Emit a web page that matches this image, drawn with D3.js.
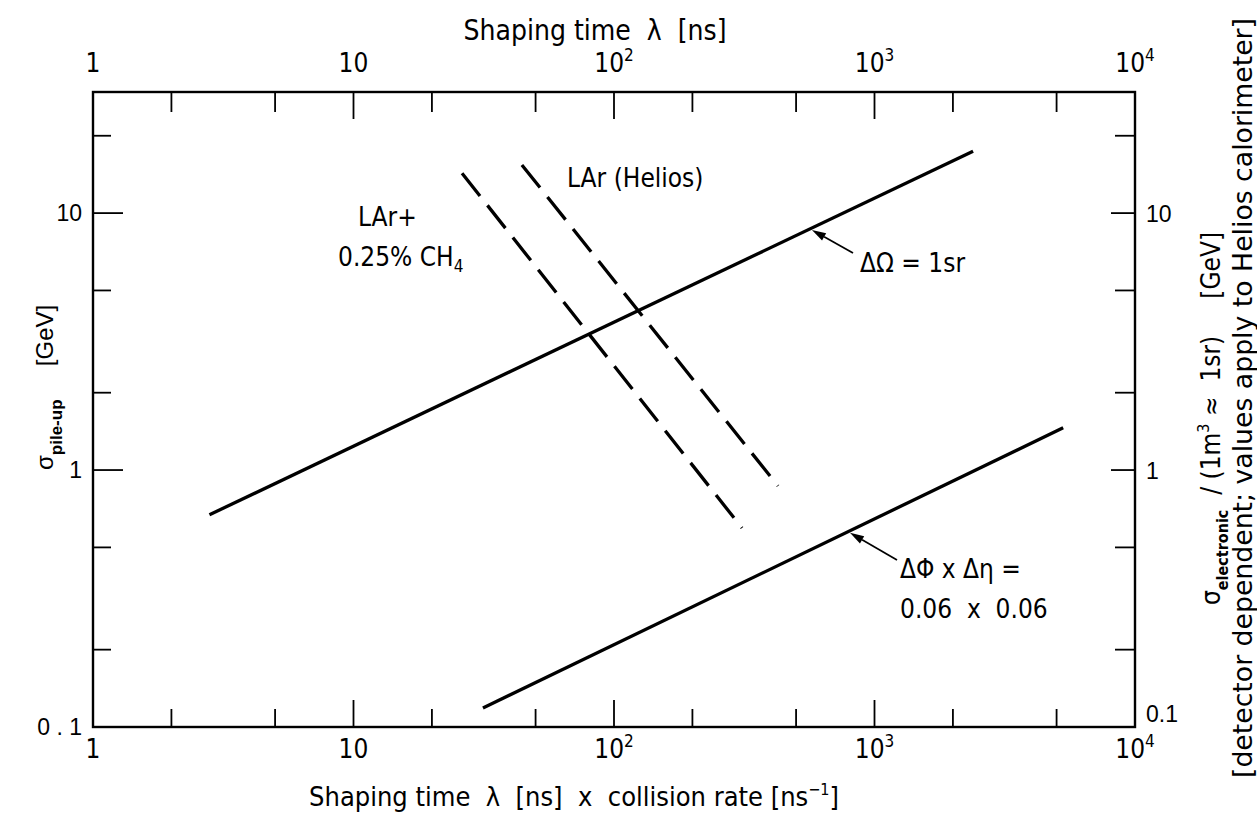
<!DOCTYPE html>
<html><head><meta charset="utf-8">
<script src="https://cdn.jsdelivr.net/npm/d3@7"></script>
<style>
html,body{margin:0;padding:0;background:#fff;}
svg{display:block;}
</style></head><body>
<svg id="chart" width="1257" height="813"></svg>
<script>
// Decade ticks shared by the top (λ) and bottom (λ × rate) axes
const decadeValues = [1, 10, 100, 1000, 10000];
const decadeBase = ["1", "10", "10", "10", "10"];
const decadeExp = ["", "", "2", "3", "4"];
const minorXTicks = [2, 5, 20, 50, 200, 500, 2000, 5000];

// σ axes (left: pile-up, right: electronic noise)
const majorYTicks = [1, 10];
const minorYTicks = [0.2, 0.5, 2, 5, 20];
const yLabelValues = [0.1, 1, 10];
const leftYLabels = ["0 . 1", "1", "10"];
const rightYLabels = ["0.1", "1", "10"];

// Pile-up noise vs λ × collision rate
const omegaX = [2.8, 2390];
const omegaY = [0.67, 17.4];
const etaPhiX = [31.4, 5300];
const etaPhiY = [0.1186, 1.46];

// Electronic noise vs shaping time λ
const larCh4X = [26.1, 310];
const larCh4Y = [14.3, 0.595];
const larHeliosX = [44.3, 426];
const larHeliosY = [15.4, 0.867];

const plotFont = "'DejaVu Sans Condensed','Liberation Sans Narrow','DejaVu Sans',sans-serif";
const sansFont = "'Liberation Sans','Arial',sans-serif";

const svg = d3.select("#chart");
const L = 93, R = 1135, T = 92, B = 727;

const x = d3.scaleLog().domain([1, 1e4]).range([L, R]);   // λ × rate
const xTop = d3.scaleLog().domain([1, 1e4]).range([L, R]); // λ
const y = d3.scaleLog().domain([0.1, 29.6]).range([B, T]);

// frame
svg.append("rect").attr("x", L).attr("y", T).attr("width", R - L).attr("height", B - T)
  .attr("fill", "none").attr("stroke", "#000").attr("stroke-width", 2.4);

const tickG = svg.append("g").attr("stroke", "#000").attr("stroke-width", 1.8);
const xTickVals = decadeValues.slice(1, -1).concat(minorXTicks);
// bottom ticks (inward)
tickG.selectAll(".tb").data(xTickVals).join("line")
  .attr("x1", d => x(d)).attr("x2", d => x(d)).attr("y1", B)
  .attr("y2", d => B - (decadeValues.includes(d) ? 27 : 18));
// top ticks (inward)
tickG.selectAll(".tt").data(xTickVals).join("line")
  .attr("x1", d => xTop(d)).attr("x2", d => xTop(d)).attr("y1", T)
  .attr("y2", d => T + (decadeValues.includes(d) ? 27 : 20));
// left ticks
tickG.selectAll(".tl").data(majorYTicks.concat(minorYTicks)).join("line")
  .attr("y1", d => y(d)).attr("y2", d => y(d)).attr("x1", L)
  .attr("x2", d => L + (majorYTicks.includes(d) ? 30 : 18));
// right ticks
tickG.selectAll(".tr").data(majorYTicks.concat(minorYTicks)).join("line")
  .attr("y1", d => y(d)).attr("y2", d => y(d)).attr("x1", R)
  .attr("x2", d => R - (majorYTicks.includes(d) ? 24 : 20));

// decade labels on top and bottom axes
function decadeLabel(g, xs, yBase) {
  const t = g.selectAll(null).data(decadeValues).join("text")
    .attr("x", d => xs(d)).attr("y", yBase)
    .attr("text-anchor", "middle")
    .attr("font-family", plotFont).attr("font-size", 26);
  t.append("tspan").text((d, i) => decadeBase[i]);
  t.append("tspan").attr("font-size", 17).attr("dy", -11).text((d, i) => decadeExp[i]);
}
decadeLabel(svg.append("g"), xTop, 72);
decadeLabel(svg.append("g"), x, 758);

// σ labels
svg.append("g").selectAll("text").data(yLabelValues).join("text")
  .attr("x", 82).attr("y", d => y(d) + 8).attr("text-anchor", "end")
  .attr("font-family", sansFont).attr("font-size", 23)
  .text((d, i) => leftYLabels[i]);
svg.append("g").selectAll("text").data(yLabelValues).join("text")
  .attr("x", 1146).attr("y", d => y(d) + (d === 0.1 ? -5 : 9))
  .attr("font-family", sansFont).attr("font-size", 23)
  .text((d, i) => rightYLabels[i]);

// axis titles
svg.append("text").attr("x", 595).attr("y", 40).attr("text-anchor", "middle")
  .attr("font-family", plotFont).attr("font-size", 28).attr("xml:space", "preserve")
  .text("Shaping time  λ  [ns]");

const botTitle = svg.append("text").attr("x", 574).attr("y", 806).attr("text-anchor", "middle")
  .attr("font-family", plotFont).attr("font-size", 27).attr("xml:space", "preserve");
botTitle.append("tspan").text("Shaping time  λ  [ns]  x  collision rate [ns");
botTitle.append("tspan").attr("font-size", 16).attr("dy", -11).text("−1");
botTitle.append("tspan").attr("dy", 11).text("]");

const leftTitle = svg.append("text").attr("transform", "translate(53,470) rotate(-90)")
  .attr("font-family", sansFont).attr("font-size", 24).attr("xml:space", "preserve");
leftTitle.append("tspan").text("σ");
leftTitle.append("tspan").attr("font-size", 17).attr("font-weight", "bold").attr("dy", 9).text("pile-up");
leftTitle.append("tspan").attr("dy", -9).text("     [GeV]");

const rightTitle = svg.append("text").attr("transform", "translate(1220,605) rotate(-90)")
  .attr("font-family", plotFont).attr("font-size", 26).attr("xml:space", "preserve");
rightTitle.append("tspan").text("σ");
rightTitle.append("tspan").attr("font-size", 16).attr("font-weight", "bold").attr("dy", 8).text("electronic");
rightTitle.append("tspan").attr("dy", -8).text("  / (1m");
rightTitle.append("tspan").attr("font-size", 16).attr("dy", -11).text("3");
rightTitle.append("tspan").attr("dy", 11).text(" ≈  1sr)     [GeV]");

svg.append("text").attr("transform", "translate(1252,778) rotate(-90)")
  .attr("font-family", plotFont).attr("font-size", 26)
  .attr("textLength", 760).attr("lengthAdjust", "spacingAndGlyphs")
  .text("[detector dependent; values apply to Helios calorimeter]");

// curves
const line = d3.line().x(d => x(d[0])).y(d => y(d[1]));
const lineTop = d3.line().x(d => xTop(d[0])).y(d => y(d[1]));
const pts = (xs, ys) => xs.map((v, i) => [v, ys[i]]);

const curves = svg.append("g").attr("fill", "none").attr("stroke", "#000").attr("stroke-width", 3.3);
curves.append("path").attr("d", line(pts(omegaX, omegaY)));
curves.append("path").attr("d", line(pts(etaPhiX, etaPhiY)));
curves.append("path").attr("d", lineTop(pts(larCh4X, larCh4Y))).attr("stroke-dasharray", "29,12");
curves.append("path").attr("d", lineTop(pts(larHeliosX, larHeliosY))).attr("stroke-dasharray", "29,12");

// point on a straight log-log segment
function onLine(xs, ys, xv) {
  const s = Math.log(ys[1] / ys[0]) / Math.log(xs[1] / xs[0]);
  return ys[0] * Math.pow(xv / xs[0], s);
}

// arrows from labels to the pile-up lines
function arrow(x0, y0, x1, y1) {
  const g = svg.append("g");
  const a = Math.atan2(y1 - y0, x1 - x0), len = 14, w = 4.2;
  const bx = x1 - len * Math.cos(a), by = y1 - len * Math.sin(a);
  g.append("line").attr("x1", x0).attr("y1", y0).attr("x2", bx).attr("y2", by)
    .attr("stroke", "#000").attr("stroke-width", 1.7);
  g.append("path").attr("d", `M${x1},${y1}L${bx - w * Math.sin(a)},${by + w * Math.cos(a)}L${bx + w * Math.sin(a)},${by - w * Math.cos(a)}Z`)
    .attr("fill", "#000");
}
arrow(853, 253, x(575), y(onLine(omegaX, omegaY, 575)) + 2);
arrow(897, 560, x(805), y(onLine(etaPhiX, etaPhiY, 805)) + 2);

// annotations
const ann = svg.append("g").attr("font-family", plotFont).attr("font-size", 26);
ann.append("text").attr("x", 567).attr("y", 187).text("LAr (Helios)");
ann.append("text").attr("x", 358).attr("y", 226).text("LAr+");
const ch4 = ann.append("text").attr("x", 338).attr("y", 266);
ch4.append("tspan").text("0.25% CH");
ch4.append("tspan").attr("font-size", 17).attr("dy", 6).text("4");
ann.append("text").attr("x", 860).attr("y", 272).text("ΔΩ = 1sr");
ann.append("text").attr("x", 900).attr("y", 578).text("ΔΦ x Δη =");
ann.append("text").attr("x", 900).attr("y", 618).attr("xml:space", "preserve").text("0.06  x  0.06");
</script>
</body></html>
